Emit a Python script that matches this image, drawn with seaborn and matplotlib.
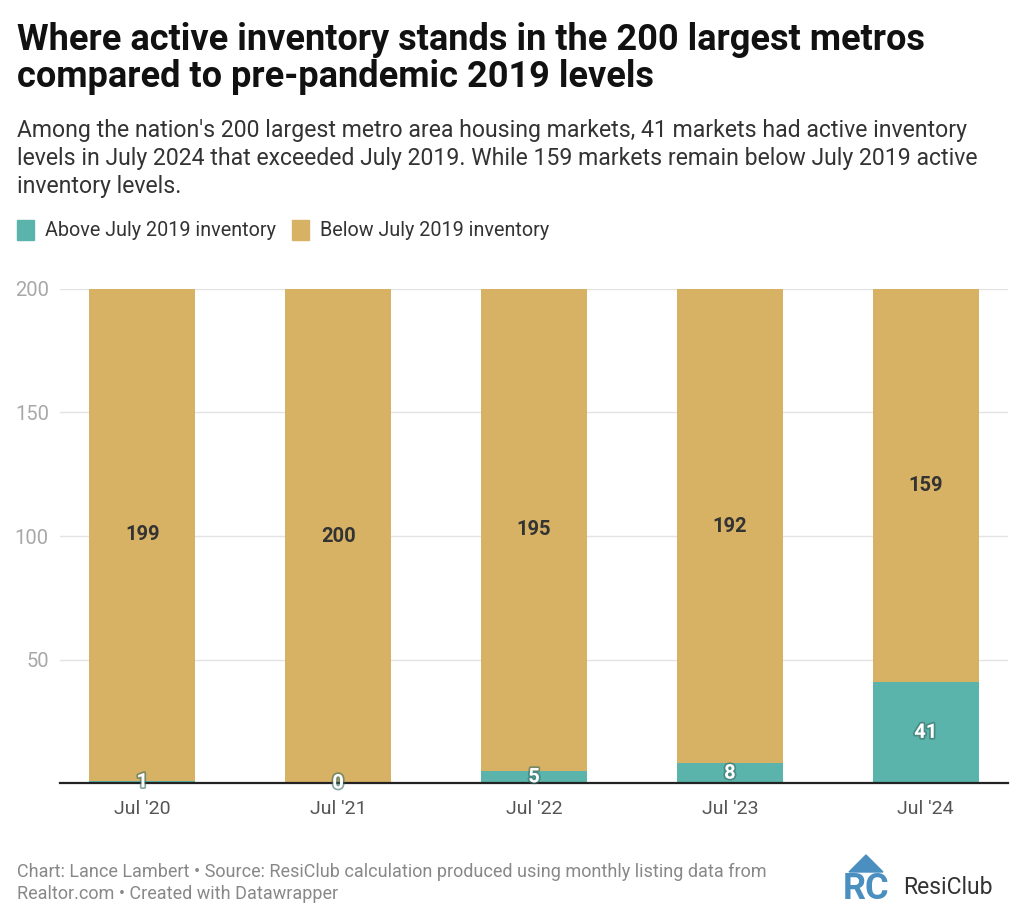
import pandas as pd
import numpy as np
import matplotlib.pyplot as plt
import matplotlib.patheffects as pe
import seaborn as sns
from matplotlib.patches import Rectangle, Polygon

months = ["Jul '20", "Jul '21", "Jul '22", "Jul '23", "Jul '24"]
above = [1, 0, 5, 8, 41]
below = [199, 200, 195, 192, 159]

teal = "#5ab4ab"
gold = "#d8b264"

df = pd.DataFrame({"month": months, "above": above, "below": below})
df["total"] = df["above"] + df["below"]

sns.set_style("white")
plt.rcParams['font.family'] = ['Roboto', 'DejaVu Sans']

fig = plt.figure(figsize=(10.24, 9.23), dpi=100)
ax = fig.add_axes([60 / 1024, 1 - 783 / 923, 948 / 1024, (783 - 289) / 923])

# stacked: total in gold, then the "above" part in teal on top of it
sns.barplot(data=df, x="month", y="total", color=gold, width=0.54, saturation=1,
            linewidth=0, ax=ax, zorder=2)
sns.barplot(data=df, x="month", y="above", color=teal, width=0.54, saturation=1,
            linewidth=0, ax=ax, zorder=3)

ax.set_xlim(-0.42, 4.42)
ax.set_ylim(0, 200)
ax.set_yticks([0, 50, 100, 150, 200])
ax.set_yticklabels(["", "50", "100", "150", "200"])
ax.grid(axis="y", color="#e3e3e3", lw=1, zorder=0)
ax.set_xlabel("")
ax.set_ylabel("")
for s in ["top", "right", "left"]:
    ax.spines[s].set_visible(False)
ax.spines["bottom"].set_color("#222222")
ax.spines["bottom"].set_linewidth(1.6)
ax.spines["bottom"].set_zorder(5)
ax.tick_params(axis="y", length=0, labelsize=14.5, labelcolor="#a8a8a8", pad=8)
ax.tick_params(axis="x", length=0, labelsize=14, labelcolor="#555555", pad=12)

for i, row in df.iterrows():
    ax.text(i, row["above"] + row["below"] / 2, str(row["below"]), ha="center", va="center",
            fontsize=14.5, fontweight="bold", color="#333333", zorder=6)
    ax.text(i, row["above"] / 2, str(row["above"]), ha="center", va="center",
            fontsize=14.5, fontweight="bold", color="white", zorder=6,
            path_effects=[pe.withStroke(linewidth=2.5, foreground="#3a6e68", alpha=0.6)])

# header
fig.text(17 / 1024, 1 - 40 / 923, "Where active inventory stands in the 200 largest metros",
         fontsize=26, fontweight="bold", color="#111111", va="center")
fig.text(17 / 1024, 1 - 77 / 923, "compared to pre-pandemic 2019 levels",
         fontsize=26, fontweight="bold", color="#111111", va="center")
sub = ["Among the nation's 200 largest metro area housing markets, 41 markets had active inventory",
       "levels in July 2024 that exceeded July 2019. While 159 markets remain below July 2019 active",
       "inventory levels."]
for k, line in enumerate(sub):
    fig.text(17 / 1024, 1 - (130 + 28 * k) / 923, line, fontsize=16.6, color="#333333", va="center")

# legend
for x0, col, lab in [(17, teal, "Above July 2019 inventory"), (292, gold, "Below July 2019 inventory")]:
    fig.patches.append(Rectangle((x0 / 1024, 1 - 240 / 923), 17 / 1024, 20 / 923,
                                 transform=fig.transFigure, color=col, figure=fig))
    fig.text((x0 + 28) / 1024, 1 - 230 / 923, lab, fontsize=14.2, color="#333333", va="center")

# footer
fig.text(17 / 1024, 1 - 872 / 923, "Chart: Lance Lambert • Source: ResiClub calculation produced using monthly listing data from",
         fontsize=13, color="#888888", va="center")
fig.text(17 / 1024, 1 - 894 / 923, "Realtor.com • Created with Datawrapper",
         fontsize=13, color="#888888", va="center")

# logo
fig.patches.append(Polygon([(866 / 1024, 1 - 855 / 923), (849 / 1024, 1 - 872 / 923), (883 / 1024, 1 - 872 / 923)],
                           closed=True, transform=fig.transFigure, color="#4a8fc0", figure=fig))
fig.text(866 / 1024, 1 - 889 / 923, "RC", fontsize=26, fontweight="bold", color="#4a8fc0",
         ha="center", va="center")
fig.text(903 / 1024, 1 - 887 / 923, "ResiClub", fontsize=16.5, color="#333333", va="center")

fig.savefig("out.png", dpi=100, facecolor="white")
